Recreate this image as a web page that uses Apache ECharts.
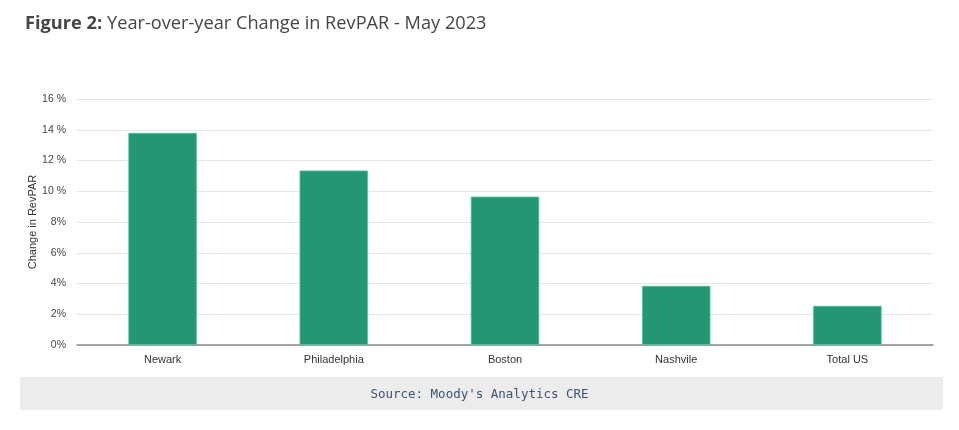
<!DOCTYPE html>
<html><head><meta charset="utf-8">
<script src="https://cdn.jsdelivr.net/npm/echarts@6/dist/echarts.min.js"></script>
<style>html,body{margin:0;padding:0;background:#fff}#c{width:959px;height:430px}</style>
</head><body><div id="c"></div>
<script>
var categories = ['Newark', 'Philadelphia', 'Boston', 'Nashvile', 'Total US'];
var values = [13.8, 11.35, 9.65, 3.85, 2.55];
var tickLabels = ['0%', '2%', '4%', '6%', '8%', '10 %', '12 %', '14 %', '16 %'];

var chart = echarts.init(document.getElementById('c'));
chart.setOption({
  animation: false,
  backgroundColor: '#fff',
  title: {
    left: 20, top: 10,
    text: '{b|Figure 2:} {r|Year-over-year Change in RevPAR - May 2023}',
    textStyle: {
      rich: {
        b: {fontFamily: 'Open Sans', fontWeight: 'bold', fontSize: 18.2, color: '#454545'},
        r: {fontFamily: 'Open Sans', fontWeight: 'normal', fontSize: 18.2, color: '#454545'}
      }
    }
  },
  grid: {left: 77, right: 26, top: 99, bottom: 85},
  xAxis: {
    type: 'category', data: categories,
    axisTick: {show: false},
    axisLine: {lineStyle: {color: '#8a8a8a', width: 1.5}},
    axisLabel: {fontFamily: 'Liberation Sans Narrow, Liberation Sans', fontSize: 11, color: '#333', margin: 9}
  },
  yAxis: {
    type: 'value', min: 0, max: 16, interval: 2,
    name: 'Change in RevPAR', nameLocation: 'middle', nameGap: 39, nameMoveOverlap: false,
    nameTextStyle: {fontFamily: 'Liberation Sans', fontSize: 11, color: '#333'},
    axisLabel: {
      fontFamily: 'Liberation Sans', fontSize: 10.5, color: '#444', margin: 11,
      formatter: function (v) { return tickLabels[Math.round(v / 2)]; }
    },
    splitLine: {lineStyle: {color: '#e6e6e6', width: 1}},
    axisLine: {show: false}, axisTick: {show: false}
  },
  series: [{
    type: 'bar', data: values, barCategoryGap: '60%',
    itemStyle: {color: '#249673', borderColor: '#4cc9a2', borderWidth: 0.8}
  }],
  graphic: [{
    type: 'rect', left: 20, top: 377, shape: {width: 923, height: 33},
    style: {fill: '#ececec'}, z: 0
  }, {
    type: 'text', left: 'center', top: 388,
    style: {text: "Source: Moody's Analytics CRE", font: '12.5px "DejaVu Sans Mono", "Liberation Mono", monospace', fill: '#3e5474'},
    z: 1
  }]
});
</script></body></html>
